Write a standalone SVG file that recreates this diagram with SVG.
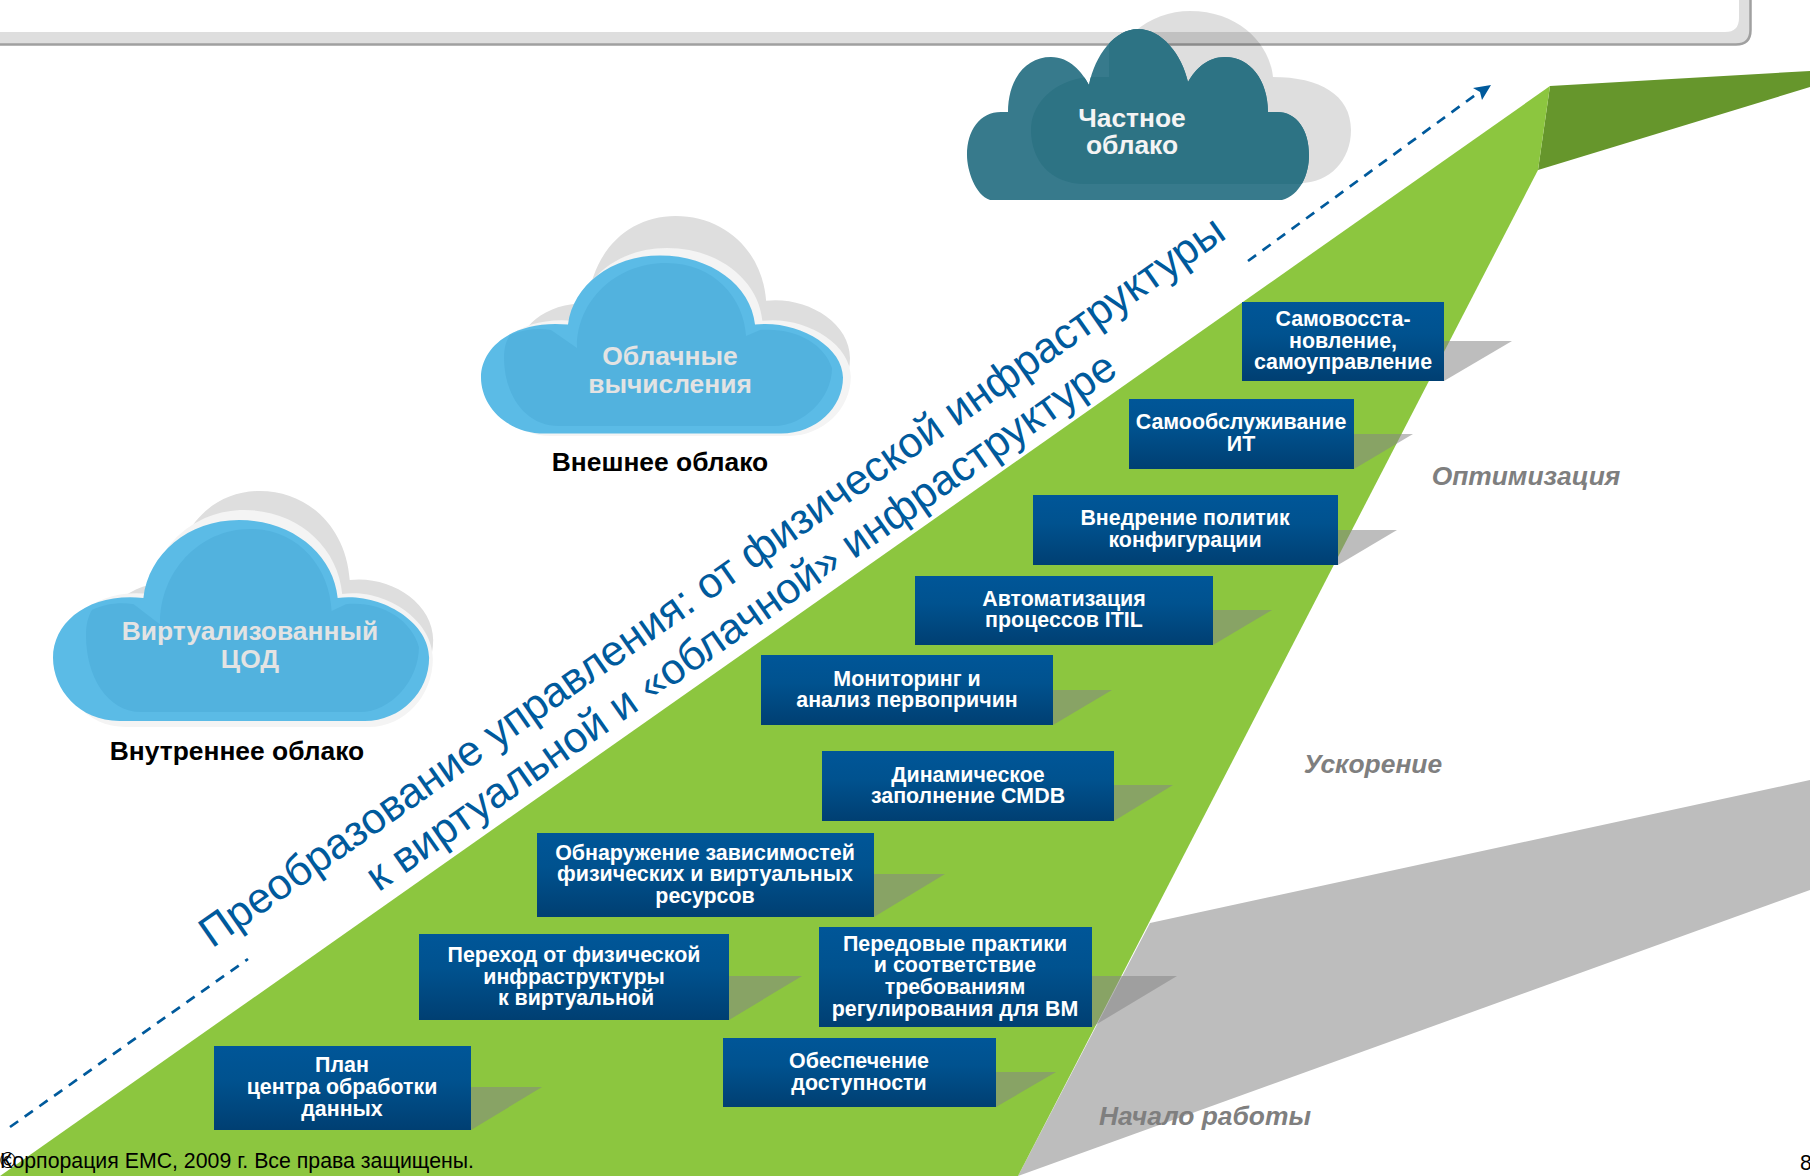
<svg xmlns="http://www.w3.org/2000/svg" xmlns:xlink="http://www.w3.org/1999/xlink" width="1810" height="1176" viewBox="0 0 1810 1176">
<style>
text{font-family:"Liberation Sans",Arial,sans-serif}
.b{font-weight:bold;font-size:21.4px;fill:#fff;text-anchor:middle}
.box{fill:url(#bg)}
.sh{fill:#858585;fill-opacity:.54}
.lab{font-weight:bold;font-size:26.400px;fill:#000;text-anchor:middle}
.cl{font-weight:bold;font-size:26.400px;text-anchor:middle}
.st{font-weight:bold;font-style:italic;font-size:26.400px;fill:#7f7f7f;text-anchor:middle}
.ttl{font-size:42.900px;fill:#005a9c;text-anchor:middle}
.dash{fill:none;stroke:#005a9c;stroke-width:2.700;stroke-dasharray:10 8}
.ft{font-size:21.300px;fill:#000}
</style>
<defs>
<linearGradient id="bg" x1="0" y1="0" x2="0" y2="1"><stop offset="0" stop-color="#005698"/><stop offset=".4" stop-color="#00528f"/><stop offset="1" stop-color="#003f72"/></linearGradient>
<path id="c" d="M64 178C25 178 0 150 0 122C0 90 35 64 87 69C92 30 130 0 179 0C230 0 270 30 274 69C315 64 362 90 362 122C362 152 335 178 300 178Z"/>
<path id="g" d="M64 178C40 178 13 150 13 122C13 98 40 76 87 76C92 30 130 0 179 0C230 0 270 30 274 74C315 70 362 92 362 124C362 152 335 178 300 178Z"/>
<path id="ci" d="M55 163C20 163 0 130 0 95C0 85 2 78 6 72C20 66 35 65 47 67L73 85C72 40 110 0 162 0C210 0 240 35 242 73L256 67C290 64 320 80 328 105C328 135 300 163 270 163Z"/>
<path id="t" d="M990 200C975 195 967 170 967 155C967 130 980 112 1001 112L1008 112C1008 80 1025 57 1051 57C1070 57 1082 72 1089 85C1095 55 1115 29 1138 29C1162 29 1182 55 1188 82C1196 68 1208 57 1225 57C1250 57 1268 80 1268 112L1277 112C1297 112 1309 130 1309 155C1309 175 1300 195 1282 200Z"/>
<clipPath id="tc"><use xlink:href="#t"/></clipPath>
</defs>
<g id="panel">
<path d="M-10 32H1725Q1739 32 1739 18V-5H1751V30Q1751 45 1736 45H-10Z" fill="#dedede"/>
<path d="M-10 44.500H1736Q1750.500 44.500 1750.500 30V-5" fill="none" stroke="#a0a0a0" stroke-width="2.500"/>
</g>
<g id="ramp">
<polygon points="1150,923 1810,780 1810,890 1018,1176" fill="#bdbdbd"/>
<polygon points="1550,86 1810,71 1810,87 1538,170" fill="#66962c"/>
<polygon points="0,1176 1550,86 1538,170 1018,1176" fill="#8cc63f"/>
</g>
<g id="cloud-private">
<path d="M1105 90C1110 40 1150 11 1190 11C1240 11 1270 45 1273 77C1320 77 1351 95 1351 130C1351 160 1330 183 1300 183H1100Z" fill="#000" fill-opacity=".13"/>
<use xlink:href="#t" fill="#377a8c"/>
<path clip-path="url(#tc)" d="M1085 184C1050 184 1031 160 1031 130C1031 100 1060 77 1094 77H1109V20H1320V184Z" fill="#2d7384"/>
<text class="cl" fill="#f4f4f4" x="1132" y="127">Частное</text>
<text class="cl" fill="#f4f4f4" x="1132" y="154">облако</text>
</g>
<g id="cloud-external">
<use xlink:href="#g" fill="#dedede" transform="translate(505 216) scale(.953 1.146)"/>
<use xlink:href="#c" fill="#f4f4f4" transform="translate(487 248) scale(1.005 1.056)"/>
<use xlink:href="#c" fill="#5bbbe6" transform="translate(481 255.500)"/>
<use xlink:href="#ci" fill="#52b2de" transform="translate(504 263)"/>
<text class="cl" fill="#e3e3e3" x="670" y="365">Облачные</text>
<text class="cl" fill="#e3e3e3" x="670" y="393">вычисления</text>
<text class="lab" x="660" y="471">Внешнее облако</text>
</g>
<g id="cloud-internal">
<use xlink:href="#g" fill="#dedede" transform="translate(90 491) scale(.948 1.202)"/>
<use xlink:href="#c" fill="#f4f4f4" transform="translate(60 510) scale(1.03 1.219)"/>
<use xlink:href="#c" fill="#5bbbe6" transform="translate(53 520) scale(1.039 1.129)"/>
<use xlink:href="#ci" fill="#52b2de" transform="translate(86 529) scale(1.015 1.123)"/>
<text class="cl" fill="#e3e3e3" x="250" y="640">Виртуализованный</text>
<text class="cl" fill="#e3e3e3" x="250" y="668">ЦОД</text>
<text class="lab" x="237" y="760">Внутреннее облако</text>
</g>
<g id="connectors">
<path class="dash" d="M10 1127L248 959"/>
<path class="dash" d="M1248 261L1478 93"/>
<polygon points="1491,85 1482,100 1480,92 1473,88" fill="#005a9c"/>
</g>
<g id="title">
<text class="ttl" transform="translate(720 593) rotate(-35)">Преобразование управления: от физической инфраструктуры</text>
<text class="ttl" transform="translate(749 633) rotate(-35)">к виртуальной и «облачной» инфраструктуре</text>
</g>
<g id="n1"><polygon class="sh" points="1444,341 1512,341 1444,381"/><rect class="box" x="1242" y="302" width="202" height="79"/><text class="b" x="1343" y="326">Самовосста-</text><text class="b" x="1343" y="348">новление,</text><text class="b" x="1343" y="369">самоуправление</text></g>
<g id="n2"><polygon class="sh" points="1354,434 1413,434 1354,469"/><rect class="box" x="1129" y="399" width="225" height="70"/><text class="b" x="1241" y="429">Самообслуживание</text><text class="b" x="1241" y="451">ИТ</text></g>
<g id="n3"><polygon class="sh" points="1338,530 1397,530 1338,565"/><rect class="box" x="1033" y="495" width="305" height="70"/><text class="b" x="1185" y="525">Внедрение политик</text><text class="b" x="1185" y="547">конфигурации</text></g>
<g id="n4"><polygon class="sh" points="1213,610 1272,610 1213,645"/><rect class="box" x="915" y="576" width="298" height="69"/><text class="b" x="1064" y="606">Автоматизация</text><text class="b" x="1064" y="627">процессов ITIL</text></g>
<g id="n5"><polygon class="sh" points="1053,690 1112,690 1053,725"/><rect class="box" x="761" y="655" width="292" height="70"/><text class="b" x="907" y="686">Мониторинг и</text><text class="b" x="907" y="707">анализ первопричин</text></g>
<g id="n6"><polygon class="sh" points="1114,785 1173,785 1114,821"/><rect class="box" x="822" y="751" width="292" height="70"/><text class="b" x="968" y="782">Динамическое</text><text class="b" x="968" y="803">заполнение CMDB</text></g>
<g id="n7"><polygon class="sh" points="874,874 945,874 874,917"/><rect class="box" x="537" y="833" width="337" height="84"/><text class="b" x="705" y="860">Обнаружение зависимостей</text><text class="b" x="705" y="881">физических и виртуальных</text><text class="b" x="705" y="903">ресурсов</text></g>
<g id="n8"><polygon class="sh" points="729,976 802,976 729,1020"/><rect class="box" x="419" y="934" width="310" height="86"/><text class="b" x="574" y="962">Переход от физической</text><text class="b" x="574" y="984">инфраструктуры</text><text class="b" x="576" y="1005">к виртуальной</text></g>
<g id="n9"><polygon class="sh" points="1092,976 1177,976 1092,1027"/><rect class="box" x="819" y="927" width="273" height="100"/><text class="b" x="955" y="951">Передовые практики</text><text class="b" x="955" y="972">и соответствие</text><text class="b" x="955" y="994">требованиям</text><text class="b" x="955" y="1016">регулирования для ВМ</text></g>
<g id="n10"><polygon class="sh" points="996,1072 1056,1072 996,1107"/><rect class="box" x="723" y="1038" width="273" height="69"/><text class="b" x="859" y="1068">Обеспечение</text><text class="b" x="859" y="1090">доступности</text></g>
<g id="n11"><polygon class="sh" points="471,1087 542,1087 471,1130"/><rect class="box" x="214" y="1046" width="257" height="84"/><text class="b" x="342" y="1072">План</text><text class="b" x="342" y="1094">центра обработки</text><text class="b" x="342" y="1116">данных</text></g>
<g id="stages">
<text class="st" x="1526" y="485">Оптимизация</text>
<text class="st" x="1373" y="773">Ускорение</text>
<text class="st" x="1205" y="1125">Начало работы</text>
</g>
<g id="footer">
<text class="ft" x="0" y="1168">©</text>
<text class="ft" x="0" y="1168">Корпорация EMC, 2009 г. Все права защищены.</text>
<text class="ft" x="1800" y="1170">8</text>
</g>
</svg>
